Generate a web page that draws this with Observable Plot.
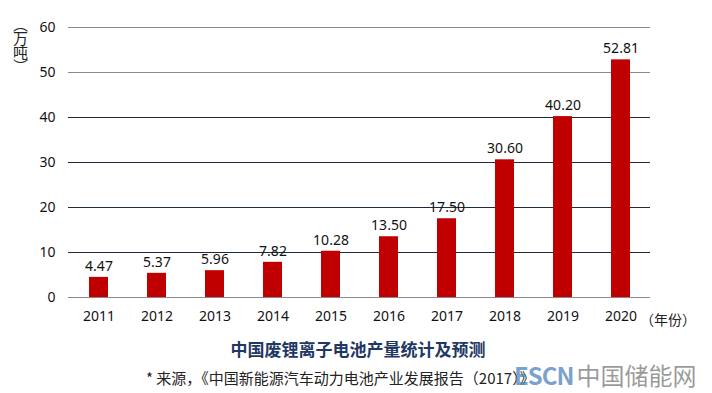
<!DOCTYPE html>
<html><head><meta charset="utf-8">
<script src="https://cdn.jsdelivr.net/npm/d3@7"></script>
<script src="https://cdn.jsdelivr.net/npm/@observablehq/plot@0.6"></script>
<style>
body{margin:0;background:#fff;font-family:"Noto Sans","Noto Sans CJK SC",sans-serif;}
#wrap{position:relative;width:712px;height:393px;overflow:hidden;}
#ytitle{position:absolute;left:11px;top:17px;writing-mode:vertical-rl;text-orientation:mixed;font-size:15px;line-height:18px;color:#222;font-family:"Noto Sans CJK SC",sans-serif;letter-spacing:-1px;}
#xunit{position:absolute;left:640px;top:309px;font-size:14px;color:#222;font-family:"Noto Sans CJK SC",sans-serif;}
#title{position:absolute;left:0;width:712px;top:336px;text-align:center;font-size:17px;font-weight:bold;color:#1F3864;font-family:"Noto Sans CJK SC",sans-serif;padding-left:4px;box-sizing:border-box;}
#source{position:absolute;left:146px;top:367px;font-size:15px;color:#222;font-family:"Noto Sans CJK SC",sans-serif;}
#mark{position:absolute;left:514px;top:361px;font-size:24px;line-height:28px;font-family:"Noto Sans CJK SC",sans-serif;font-weight:bold;white-space:nowrap;}
#mark .e{color:rgba(80,130,190,0.75);letter-spacing:-1px;}
#mark .c{color:rgba(120,120,120,0.75);font-weight:normal;margin-left:3px;}
</style></head>
<body><div id="wrap"><div id="chart"></div>
<div id="ytitle">（万吨）</div>
<div id="xunit">（年份）</div>
<div id="title">中国废锂离子电池产量统计及预测</div>
<div id="source">* 来源，《中国新能源汽车动力电池产业发展报告（2017）》</div>
<div id="mark"><span class="e">ESCN</span><span class="c">中国储能网</span></div>
</div>
<script>
const years = ["2011","2012","2013","2014","2015","2016","2017","2018","2019","2020"];
const values = [4.47,5.37,5.96,7.82,10.28,13.50,17.50,30.60,40.20,52.81];
const yTicks = [0,10,20,30,40,50,60];
const darkGrid = [10,20,30,40];
const lightGrid = [50,60];

const data = years.map((y,i)=>({year:y,value:values[i]}));

const chart = Plot.plot({
  width:712, height:333,
  marginLeft:68, marginRight:62, marginTop:27, marginBottom:36,
  style:{fontFamily:"'Noto Sans',sans-serif",fontSize:"14px",color:"#111",background:"#fff"},
  x:{domain:years, paddingInner:0.68, paddingOuter:0.34, label:null, tickSize:0, tickPadding:14},
  y:{domain:[0,60], ticks:yTicks, label:null, tickSize:0, tickPadding:13},
  marks:[
    Plot.ruleY(darkGrid,{stroke:"#1d2b3a",strokeWidth:1}),
    Plot.ruleY(lightGrid,{stroke:"#8a8a8a",strokeWidth:1}),
    Plot.ruleY([0],{stroke:"#8a8a8a",strokeWidth:1}),
    Plot.barY(data,{x:"year",y:"value",fill:"#C00000"}),
    Plot.text(data,{x:"year",y:"value",text:d=>d.value.toFixed(2),dy:-11,fill:"#111",fontSize:14})
  ]
});
document.getElementById("chart").appendChild(chart);
</script></body></html>
